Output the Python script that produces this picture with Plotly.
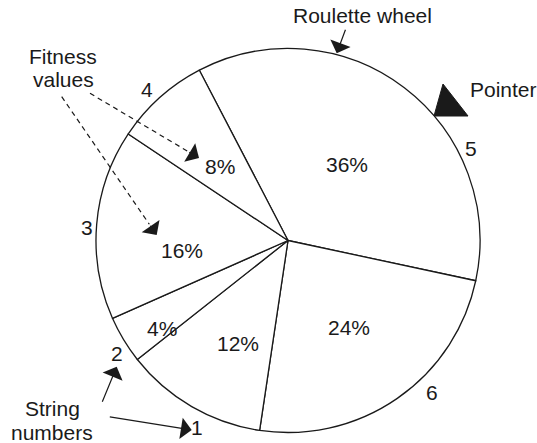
import math
import plotly.graph_objects as go

W, H = 537, 443

# slices of the roulette wheel, clockwise from the pointer side
strings = ["5", "6", "1", "2", "3", "4"]
fitness = [36, 24, 12, 4, 16, 8]
pct_text = ["36%", "24%", "12%", "4%", "16%", "8%"]

# where the texts sit in the picture (pixels)
pct_xy = [(347, 164), (349, 327), (238, 343), (162, 328), (182, 250), (220, 167)]
num_xy = [(471, 148), (432, 392), (197, 427), (117, 353), (87, 227), (147, 90)]

FONT = dict(family="Liberation Sans, Arial, sans-serif", size=21, color="#1a1a1a")


def px(x):
    return x / W


def py(y):
    return 1 - y / H


fig = go.Figure()
fig.add_trace(go.Pie(
    labels=strings, values=fitness, sort=False, direction="clockwise",
    rotation=-27.5, textinfo="none", showlegend=False,
    marker=dict(colors=["white"] * 6, line=dict(color="#1a1a1a", width=1.3)),
    domain=dict(x=[px(96), px(480)], y=[py(432.5), py(48.5)]),
))

ann = []
for t, (x, y) in zip(pct_text, pct_xy):
    ann.append(dict(text=t, x=px(x), y=py(y)))
for t, (x, y) in zip(strings, num_xy):
    ann.append(dict(text=t, x=px(x), y=py(y)))
for t, x, y in [("Roulette wheel", 362, 15), ("Pointer", 503, 90),
                ("Fitness", 63, 57), ("values", 63, 80),
                ("String", 52, 408), ("numbers", 52, 432)]:
    ann.append(dict(text=t, x=px(x), y=py(y)))
for a in ann:
    a.update(xref="paper", yref="paper", showarrow=False, font=FONT,
             xanchor="center", yanchor="middle")


def arrow(tip, tail):
    return dict(text="", xref="paper", yref="paper", x=px(tip[0]), y=py(tip[1]),
                ax=tail[0] - tip[0], ay=tail[1] - tip[1], showarrow=True,
                arrowhead=1, arrowsize=3, arrowwidth=1.2, arrowcolor="#1a1a1a")


# solid arrows
ann.append(arrow((336.7, 53.3), (346, 28.3)))
ann.append(arrow((116.7, 366.7), (101.7, 403.3)))
ann.append(arrow((191.7, 430), (108.3, 416.7)))

# dashed arrows: dashed body + short solid piece for the head
shapes = []
for start, tip in [((90, 93.3), (199, 158)), ((61.7, 96.7), (156.7, 235))]:
    dx, dy = tip[0] - start[0], tip[1] - start[1]
    n = math.hypot(dx, dy)
    back = (tip[0] - dx / n * 13, tip[1] - dy / n * 13)
    shapes.append(dict(type="line", xref="paper", yref="paper",
                       x0=px(start[0]), y0=py(start[1]), x1=px(back[0]), y1=py(back[1]),
                       line=dict(color="#1a1a1a", width=1.2, dash="5px,4px")))
    ann.append(arrow(tip, back))

# pointer triangle
tri = [(443, 84), (434, 116), (468, 116)]
path = "M " + " L ".join(f"{px(x)},{py(y)}" for x, y in tri) + " Z"
shapes.append(dict(type="path", xref="paper", yref="paper", path=path,
                   fillcolor="#1a1a1a", line=dict(color="#1a1a1a", width=1)))

fig.update_layout(
    width=W, height=H, margin=dict(l=0, r=0, t=0, b=0),
    paper_bgcolor="white", plot_bgcolor="white",
    annotations=ann, shapes=shapes, font=FONT,
)
# the page's default body margin would push the figure 8px off the window
fig.write_html("out.html", config={"displayModeBar": False},
               post_script="document.body.style.margin='0';")
